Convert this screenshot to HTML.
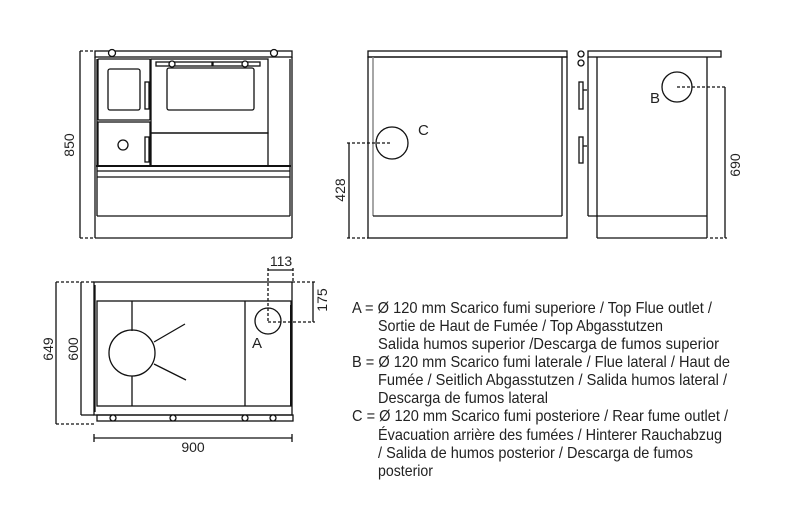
<!DOCTYPE html>
<html><head><meta charset="utf-8"><style>
html,body{margin:0;padding:0;background:#fff;}
svg{display:block;}
text{font-family:"Liberation Sans",sans-serif;fill:#222;}
</style></head><body>
<svg width="790" height="520" viewBox="0 0 790 520" xmlns="http://www.w3.org/2000/svg">
<g fill="none" stroke="#111" stroke-width="1.3">
<!-- FRONT VIEW -->
<rect x="95" y="51" width="197" height="6"/>
<circle cx="112" cy="53" r="3.5" fill="#fff"/><circle cx="274" cy="53" r="3.5" fill="#fff"/>
<line x1="95" y1="57" x2="95" y2="238"/><line x1="292" y1="57" x2="292" y2="238"/>
<line x1="95" y1="238" x2="292" y2="238"/>
<line x1="97" y1="59" x2="97" y2="216"/><line x1="290" y1="59" x2="290" y2="216"/>
<rect x="98" y="59" width="52" height="61" rx="1"/>
<rect x="108" y="69" width="32" height="41" rx="2"/>
<rect x="145" y="82" width="4" height="27"/>
<rect x="98" y="122" width="52" height="44"/>
<circle cx="123" cy="145" r="5"/>
<rect x="145" y="137" width="4" height="25"/>
<rect x="151" y="59" width="117" height="74"/>
<rect x="167" y="68" width="87" height="42" rx="2"/>
<rect x="156" y="62" width="56" height="4"/><rect x="213" y="62" width="47" height="4"/>
<circle cx="172" cy="64" r="3" fill="#fff"/><circle cx="245" cy="64" r="3" fill="#fff"/>
<rect x="151" y="133" width="117" height="33"/>
<line x1="96" y1="166" x2="291" y2="166" stroke-width="2"/>
<line x1="97" y1="171" x2="290" y2="171"/><line x1="97" y1="177" x2="290" y2="177"/>
<line x1="97" y1="216" x2="290" y2="216"/>
<line x1="80" y1="51" x2="80" y2="238"/>
<line x1="80" y1="51" x2="95" y2="51" stroke-dasharray="3,2"/>
<line x1="80" y1="238" x2="95" y2="238" stroke-dasharray="3,2"/>

<!-- REAR VIEW -->
<rect x="368" y="51" width="199" height="6"/>
<rect x="368" y="57" width="199" height="181"/>
<line x1="373" y1="57" x2="373" y2="216" stroke="#888" stroke-width="1.5"/>
<line x1="562" y1="57" x2="562" y2="216"/>
<line x1="373" y1="216" x2="562" y2="216"/>
<circle cx="392" cy="143" r="16"/>
<line x1="347" y1="143" x2="391" y2="143" stroke-dasharray="3,2"/>
<line x1="349" y1="143" x2="349" y2="238"/>
<line x1="347" y1="238" x2="368" y2="238" stroke-dasharray="3,2"/>

<!-- SIDE VIEW -->
<rect x="588" y="51" width="133" height="6"/>
<line x1="588" y1="57" x2="588" y2="216"/>
<line x1="597" y1="57" x2="597" y2="238"/><line x1="707" y1="57" x2="707" y2="238"/>
<line x1="588" y1="216" x2="707" y2="216"/><line x1="597" y1="238" x2="707" y2="238"/>
<circle cx="581" cy="54" r="3"/><circle cx="581" cy="63" r="3"/>
<rect x="579" y="82" width="4" height="27"/><rect x="579" y="137" width="4" height="26"/>
<line x1="583" y1="90" x2="587" y2="90"/><line x1="583" y1="146" x2="587" y2="146"/>
<circle cx="677" cy="87" r="15"/>
<line x1="677" y1="87" x2="727" y2="87" stroke-dasharray="3,2"/>
<line x1="725" y1="87" x2="725" y2="238"/>
<line x1="710" y1="238" x2="727" y2="238" stroke-dasharray="3,2"/>

<!-- TOP VIEW -->
<rect x="94" y="282" width="198" height="133"/>
<line x1="95" y1="285" x2="95" y2="412"/>
<rect x="97" y="301" width="194" height="105"/>
<line x1="132" y1="301" x2="132" y2="331"/><line x1="132" y1="376" x2="132" y2="406"/>
<line x1="245" y1="301" x2="245" y2="406"/>
<line x1="291" y1="305" x2="291" y2="406" stroke-width="2"/>
<circle cx="132" cy="353" r="23"/>
<line x1="154" y1="342" x2="185" y2="324"/><line x1="154" y1="364" x2="186" y2="380"/>
<circle cx="268" cy="321" r="13"/>
<rect x="97" y="415" width="196" height="6"/>
<circle cx="113" cy="418" r="3" fill="#fff"/><circle cx="173" cy="418" r="3" fill="#fff"/>
<circle cx="245" cy="418" r="3" fill="#fff"/><circle cx="273" cy="418" r="3" fill="#fff"/>
<line x1="268" y1="268" x2="268" y2="322" stroke-dasharray="3,2"/>
<line x1="293" y1="268" x2="293" y2="282" stroke-dasharray="3,2"/>
<line x1="268" y1="270" x2="293" y2="270"/>
<line x1="268" y1="322" x2="315" y2="322" stroke-dasharray="3,2"/>
<line x1="292" y1="282" x2="315" y2="282" stroke-dasharray="3,2"/>
<line x1="313" y1="282" x2="313" y2="322"/>
<line x1="81" y1="282" x2="81" y2="415"/>
<line x1="56" y1="282" x2="56" y2="424"/>
<line x1="56" y1="282" x2="94" y2="282" stroke-dasharray="3,2"/>
<line x1="56" y1="424" x2="96" y2="424" stroke-dasharray="3,2"/>
<line x1="81" y1="415" x2="94" y2="415"/>
<line x1="94" y1="438" x2="292" y2="438"/>
<line x1="94" y1="434" x2="94" y2="442"/><line x1="292" y1="434" x2="292" y2="442"/>
</g>
<g font-size="14">
<text x="74" y="145" transform="rotate(-90 74 145)" text-anchor="middle">850</text>
<text x="345" y="190" transform="rotate(-90 345 190)" text-anchor="middle">428</text>
<text x="740" y="165" transform="rotate(-90 740 165)" text-anchor="middle">690</text>
<text x="418" y="135" font-size="15">C</text>
<text x="650" y="103" font-size="15">B</text>
<text x="252" y="348" font-size="15">A</text>
<text x="281" y="266" text-anchor="middle">113</text>
<text x="327" y="300" transform="rotate(-90 327 300)" text-anchor="middle">175</text>
<text x="78" y="349" transform="rotate(-90 78 349)" text-anchor="middle">600</text>
<text x="53" y="349" transform="rotate(-90 53 349)" text-anchor="middle">649</text>
<text x="193" y="452" text-anchor="middle">900</text>
</g>
<g font-size="16">
<text x="352" y="313" textLength="360" lengthAdjust="spacingAndGlyphs">A = Ø 120 mm  Scarico fumi superiore / Top Flue outlet /</text>
<text x="378" y="331" textLength="285" lengthAdjust="spacingAndGlyphs">Sortie de Haut de Fumée / Top Abgasstutzen</text>
<text x="378" y="349" textLength="341" lengthAdjust="spacingAndGlyphs">Salida humos superior /Descarga de fumos superior</text>
<text x="352" y="367" textLength="378" lengthAdjust="spacingAndGlyphs">B = Ø 120 mm  Scarico fumi laterale / Flue lateral / Haut de</text>
<text x="378" y="385" textLength="349" lengthAdjust="spacingAndGlyphs">Fumée / Seitlich Abgasstutzen / Salida humos lateral /</text>
<text x="378" y="403" textLength="170" lengthAdjust="spacingAndGlyphs">Descarga de fumos lateral</text>
<text x="352" y="421" textLength="376" lengthAdjust="spacingAndGlyphs">C = Ø 120 mm  Scarico fumi posteriore / Rear fume outlet /</text>
<text x="378" y="440" textLength="344" lengthAdjust="spacingAndGlyphs">Évacuation arrière des fumées / Hinterer Rauchabzug</text>
<text x="378" y="458" textLength="315" lengthAdjust="spacingAndGlyphs">/ Salida de humos posterior / Descarga de fumos</text>
<text x="378" y="476" textLength="55" lengthAdjust="spacingAndGlyphs">posterior</text>
</g>
</svg>
</body></html>
